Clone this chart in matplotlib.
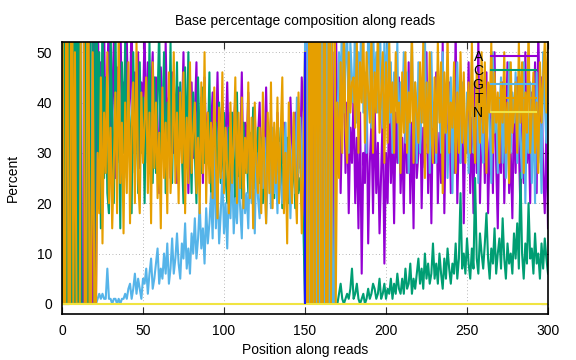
import matplotlib
matplotlib.use("Agg")
from matplotlib import pyplot as plt

plt.rcParams['font.family'] = ['Liberation Sans', 'DejaVu Sans']
plt.rcParams['font.size'] = 10

# percent per base, position 0..21 (low coverage, swings 0/100)
a_start = [0, 0, 100, 0, 0, 100, 0, 0, 50, 0, 100, 0, 0, 0, 100, 0, 0, 100, 0, 0, 100, 0]
c_start = [0, 100, 0, 0, 100, 0, 0, 100, 0, 100, 0, 100, 0, 0, 0, 100, 0, 0, 100, 50, 0, 100]
g_start = [0, 0, 0, 0, 0, 0, 0, 0, 0, 0, 0, 0, 0, 0, 0, 0, 0, 0, 0, 0, 0, 0]
t_start = [100, 0, 0, 100, 0, 0, 100, 0, 50, 0, 0, 0, 100, 100, 0, 0, 100, 0, 0, 50, 0, 0]

# position 22..149
a_mid = [60, 35, 48, 22, 55, 30, 45, 58, 28, 40,
         52, 25, 47, 38, 60, 33, 44, 29, 53, 36,
         41, 57, 30, 46, 35, 50, 27, 44, 38, 55,
         32, 48, 26, 42, 50, 30, 45, 36, 22, 47,
         38, 28, 52, 34, 41, 25, 46, 30, 39, 24,
         43, 31, 36, 50, 27, 40, 22, 35, 44, 29,
         37, 48, 26, 33, 41, 24, 45, 30, 38, 27,
         35, 42, 24, 31, 46, 28, 36, 40, 25, 33,
         44, 29, 38, 23, 35, 41, 27, 34, 30, 46,
         25, 36, 31, 42, 22, 34, 28, 38, 26, 33,
         40, 24, 35, 29, 43, 27, 31, 37, 22, 30,
         26, 38, 24, 33, 28, 36, 21, 30, 27, 41,
         32, 25, 38, 20, 34, 27, 45, 38]
c_mid = [20, 50, 15, 60, 25, 45, 22, 18, 55, 35,
         20, 55, 28, 40, 15, 48, 30, 52, 25, 42,
         35, 18, 50, 26, 45, 22, 48, 30, 41, 20,
         44, 28, 52, 30, 24, 45, 26, 40, 55, 28,
         35, 50, 22, 40, 30, 52, 24, 45, 33, 48,
         25, 44, 30, 20, 47, 28, 50, 35, 22, 42,
         30, 20, 45, 32, 26, 43, 28, 36, 29, 46,
         22, 30, 20, 36, 18, 40, 24, 29, 38, 25,
         20, 35, 22, 38, 30, 19, 42, 24, 33, 21,
         36, 26, 31, 22, 34, 25, 39, 23, 28, 35,
         24, 33, 20, 30, 22, 36, 25, 28, 34, 21,
         31, 22, 27, 35, 19, 29, 24, 33, 20, 28,
         23, 30, 19, 27, 22, 25, 20, 16]
g_mid = [1, 2, 1, 2, 1, 1, 7, 1, 1, 0,
         1, 1, 0, 1, 0, 1, 1, 2, 1, 3,
         4, 1, 3, 6, 2, 5, 3, 1, 5, 4,
         7, 2, 6, 9, 3, 5, 8, 11, 4, 7,
         5, 10, 6, 12, 4, 7, 13, 6, 9, 14,
         8, 5, 12, 9, 16, 7, 11, 6, 14, 10,
         17, 9, 13, 20, 11, 15, 8, 19, 12, 16,
         22, 13, 31, 15, 24, 12, 18, 26, 14, 20,
         11, 23, 17, 28, 14, 21, 16, 25, 19, 13,
         27, 18, 22, 15, 29, 20, 24, 14, 30, 21,
         17, 28, 23, 33, 16, 25, 30, 19, 35, 22,
         28, 18, 32, 24, 20, 27, 36, 21, 31, 17,
         29, 35, 22, 41, 26, 37, 24, 33]
t_mid = [30, 18, 45, 12, 38, 26, 50, 20, 35, 15,
         28, 42, 18, 55, 24, 36, 14, 40, 22, 48,
         16, 35, 44, 20, 52, 25, 18, 42, 28, 36,
         45, 22, 38, 16, 48, 27, 40, 21, 34, 15,
         43, 25, 36, 18, 46, 22, 30, 50, 24, 38,
         20, 42, 28, 46, 18, 37, 24, 48, 26, 34,
         40, 22, 33, 18, 44, 26, 50, 20, 38, 24,
         36, 21, 43, 28, 17, 39, 25, 46, 22, 35,
         27, 18, 40, 24, 32, 45, 20, 38, 23, 41,
         19, 33, 26, 44, 21, 37, 15, 40, 28, 22,
         35, 18, 42, 25, 16, 38, 22, 44, 19, 36,
         24, 41, 20, 34, 45, 18, 30, 12, 40, 26,
         20, 38, 24, 16, 42, 30, 14, 28]

# position 150..169 (second read, low coverage again)
a_join = [0, 0, 100, 0, 0, 0, 100, 0, 0, 0, 100, 0, 0, 100, 0, 0, 0, 50, 0, 60]
c_join = [0, 0, 0, 0, 0, 0, 0, 0, 0, 0, 0, 0, 0, 0, 0, 0, 0, 0, 0, 0]
g_join = [50, 100, 0, 0, 100, 0, 0, 0, 100, 0, 0, 100, 0, 0, 100, 0, 100, 0, 0, 40]
t_join = [50, 0, 0, 100, 0, 100, 0, 100, 0, 100, 0, 0, 100, 0, 0, 100, 0, 50, 100, 0]

# position 170..300
a_end = [30, 45, 22, 38, 50, 26, 40, 18, 35, 28,
         42, 20, 33, 15, 38, 6, 30, 24, 45, 12,
         28, 36, 18, 40, 22, 32, 14, 26, 38, 8,
         30, 20, 42, 24, 35, 16, 38, 28, 45, 22,
         33, 18, 40, 26, 48, 20, 36, 15, 42, 25,
         30, 44, 19, 35, 27, 50, 22, 38, 16, 40,
         28, 46, 20, 34, 24, 52, 18, 36, 30, 44,
         22, 38, 26, 55, 20, 34, 28, 42, 16, 36,
         30, 48, 22, 37, 18, 44, 26, 53, 20, 35,
         40, 24, 46, 18, 32, 38, 22, 50, 28, 15,
         36, 26, 44, 20, 34, 48, 22, 30, 17, 40,
         26, 45, 32, 18, 38, 24, 50, 28, 35, 20,
         42, 30, 48, 22, 55, 34, 45, 26, 18, 35,
         15]
c_end = [0, 2, 4, 1, 0, 1, 2, 1, 3, 7,
         1, 2, 4, 1, 0, 1, 2, 0, 1, 3,
         1, 2, 4, 3, 1, 2, 5, 1, 2, 4,
         1, 3, 2, 5, 1, 4, 2, 6, 3, 2,
         5, 2, 7, 3, 4, 8, 2, 5, 3, 6,
         9, 4, 7, 3, 10, 5, 8, 4, 6, 12,
         5, 8, 4, 10, 6, 3, 9, 5, 11, 7,
         4, 8, 6, 12, 5, 9, 22, 7, 10, 6,
         13, 8, 5, 11, 7, 25, 9, 6, 14, 10,
         7, 12, 18, 9, 5, 11, 8, 15, 6, 10,
         13, 7, 17, 9, 5, 12, 8, 10, 6, 14,
         9, 16, 7, 26, 10, 5, 12, 8, 20, 9,
         11, 6, 14, 8, 10, 5, 12, 7, 13, 9,
         6]
g_end = [35, 50, 42, 60, 38, 48, 55, 30, 52, 45,
         40, 58, 36, 50, 44, 62, 38, 46, 30, 55,
         48, 35, 56, 42, 50, 38, 60, 44, 35, 52,
         42, 55, 36, 48, 30, 46, 40, 52, 28, 44,
         38, 50, 32, 46, 26, 42, 52, 34, 44, 28,
         48, 30, 40, 36, 54, 32, 44, 26, 50, 35,
         40, 28, 46, 38, 30, 50, 34, 42, 25, 36,
         45, 22, 40, 32, 48, 36, 28, 44, 35, 30,
         42, 26, 38, 48, 30, 35, 44, 24, 40, 33,
         28, 46, 30, 42, 36, 24, 50, 34, 40, 26,
         38, 45, 28, 40, 25, 34, 48, 30, 42, 36,
         46, 28, 40, 32, 25, 48, 20, 38, 30, 44,
         24, 40, 20, 46, 28, 36, 22, 50, 40, 32,
         46]
t_end = [40, 25, 48, 30, 55, 35, 28, 50, 38, 44,
         45, 35, 52, 30, 48, 40, 56, 32, 50, 42,
         36, 54, 30, 46, 38, 55, 34, 42, 50, 28,
         48, 32, 52, 38, 44, 30, 50, 36, 40, 26,
         46, 34, 50, 30, 42, 36, 55, 28, 44, 38,
         32, 48, 36, 52, 25, 44, 30, 50, 35, 28,
         45, 30, 52, 36, 48, 22, 46, 34, 54, 30,
         40, 35, 48, 26, 42, 30, 50, 32, 46, 28,
         38, 44, 30, 52, 36, 28, 46, 40, 32, 50,
         34, 48, 26, 44, 38, 52, 30, 46, 36, 42,
         28, 44, 36, 50, 30, 40, 24, 48, 34, 38,
         44, 30, 52, 36, 48, 26, 42, 34, 55, 30,
         38, 46, 30, 40, 26, 48, 36, 45, 52, 38,
         55]

base_a = a_start + a_mid + a_join + a_end
base_c = c_start + c_mid + c_join + c_end
base_g = g_start + g_mid + g_join + g_end
base_t = t_start + t_mid + t_join + t_end
positions = list(range(len(base_a)))
base_n = [0] * len(positions)

# read boundary marker
boundary_x = [150]
boundary_top = [50]

fig = plt.figure(figsize=(5.76, 3.6), dpi=100)
ax = fig.add_axes([0.1076, 0.128, 0.8438, 0.755])

ax.plot(positions, base_a, color='#9400d3', lw=1.5, label='A')
ax.plot(positions, base_c, color='#009e73', lw=1.5, label='C')
ax.plot(positions, base_g, color='#56b4e9', lw=1.5, label='G')
ax.plot(positions, base_t, color='#e69f00', lw=1.5, label='T')
ax.plot(positions, base_n, color='#f0e442', lw=1.5, label='N')
ax.vlines(boundary_x, 0, boundary_top, color='#1a1aff', lw=1.5)

ax.set_xlim(0, 300)
ax.set_ylim(-2, 52)
ax.set_xticks([0, 50, 100, 150, 200, 250, 300])
ax.set_yticks([0, 10, 20, 30, 40, 50])
ax.grid(True, color='#a0a0a0', ls=(0, (1, 3)), lw=0.6)
ax.tick_params(direction='in', top=True, right=True, length=5, width=0.8,
               color='#303030', pad=7)
for s in ax.spines.values():
    s.set_linewidth(1.2)

ax.set_title('Base percentage composition along reads', fontsize=10, pad=12)
ax.set_xlabel('Position along reads', labelpad=4)
ax.set_ylabel('Percent', labelpad=12)

ax.legend(loc='upper right', bbox_to_anchor=(0.975, 0.972), frameon=False, markerfirst=False,
          handlelength=3.2, labelspacing=0.0, handletextpad=0.6, borderaxespad=0, borderpad=0)

plt.savefig('out.png', dpi=100)
